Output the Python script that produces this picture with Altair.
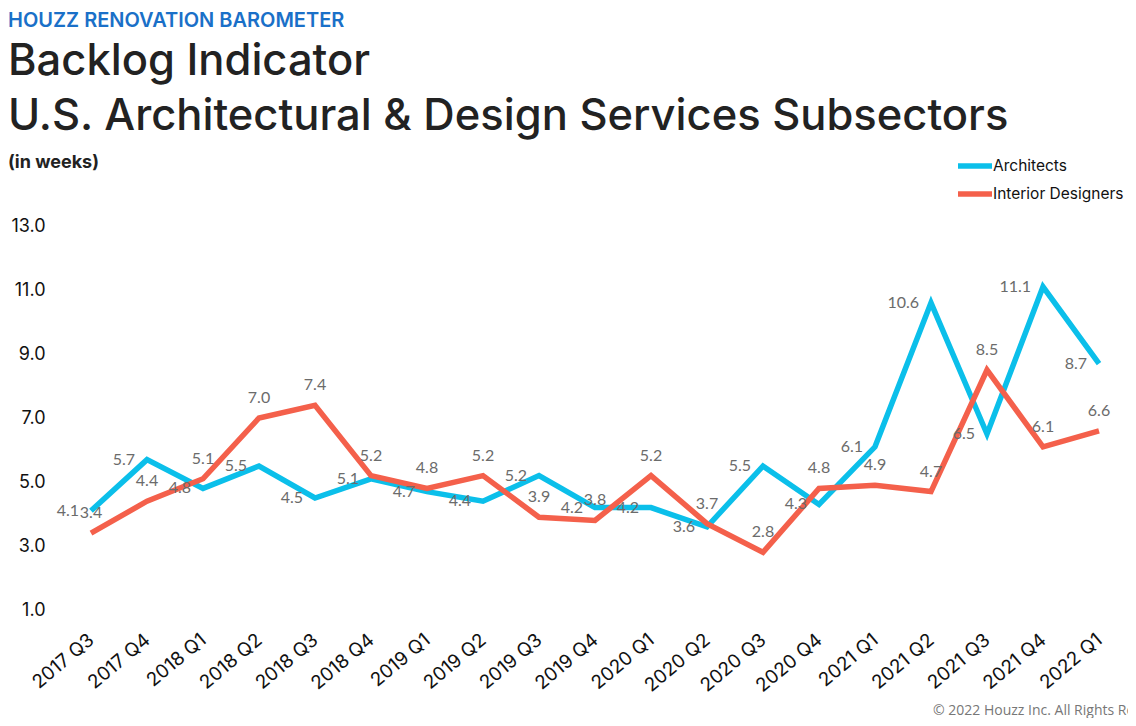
import altair as alt
import pandas as pd

quarters = ["2017 Q3", "2017 Q4", "2018 Q1", "2018 Q2", "2018 Q3", "2018 Q4",
            "2019 Q1", "2019 Q2", "2019 Q3", "2019 Q4", "2020 Q1", "2020 Q2",
            "2020 Q3", "2020 Q4", "2021 Q1", "2021 Q2", "2021 Q3", "2021 Q4",
            "2022 Q1"]
architects = [4.1, 5.7, 4.8, 5.5, 4.5, 5.1, 4.7, 4.4, 5.2, 4.2, 4.2, 3.6,
              5.5, 4.3, 6.1, 10.6, 6.5, 11.1, 8.7]
interior = [3.4, 4.4, 5.1, 7.0, 7.4, 5.2, 4.8, 5.2, 3.9, 3.8, 5.2, 3.7,
            2.8, 4.8, 4.9, 4.7, 8.5, 6.1, 6.6]
series_names = ["Architects", "Interior Designers"]
colors = ["#0BBFEA", "#F4604B"]
y_ticks = [1, 3, 5, 7, 9, 11, 13]

rows = []
for q, a, i in zip(quarters, architects, interior):
    rows.append({"quarter": q, "series": series_names[0], "value": a})
    rows.append({"quarter": q, "series": series_names[1], "value": i})
df = pd.DataFrame(rows)

W, H = 1064, 384
FONT = "Inter"
NUMFONT = "Lato"

x = alt.X("quarter:N", sort=quarters,
          scale=alt.Scale(type="point", padding=0.5),
          axis=alt.Axis(title=None, labelAngle=-40, labelAlign="right",
                        labelBaseline="middle", labelPadding=27,
                        domain=False, ticks=False, labelFont=FONT,
                        labelFontSize=19, labelColor="#111111"))
y = alt.Y("value:Q", scale=alt.Scale(domain=[1, 13], nice=False, zero=False),
          axis=alt.Axis(title=None, values=y_ticks, format=".1f", grid=False,
                        domain=False, ticks=False, labelFont=FONT,
                        labelFontSize=18, labelColor="#111111",
                        labelPadding=18))
color = alt.Color("series:N", scale=alt.Scale(domain=series_names, range=colors),
                  legend=None)

base = alt.Chart(df)
lines = base.mark_line(strokeWidth=5.5).encode(x=x, y=y, color=color, detail="series:N")

lab_arch = base.transform_filter(alt.datum.series == series_names[0]).mark_text(
    align="right", baseline="middle", dx=-12, font=NUMFONT, fontSize=16, color="#6b6b6b"
).encode(x=x, y=y, text=alt.Text("value:Q", format=".1f"))
lab_int = base.transform_filter(alt.datum.series == series_names[1]).mark_text(
    align="center", baseline="middle", dy=-20, font=NUMFONT, fontSize=16, color="#6b6b6b"
).encode(x=x, y=y, text=alt.Text("value:Q", format=".1f"))


def txt(s, xv, yv, size, color, weight="normal", font=FONT, align="left"):
    return alt.Chart(pd.DataFrame({"t": [s]})).mark_text(
        align=align, baseline="alphabetic", font=font, fontSize=size,
        fontWeight=weight, color=color
    ).encode(text="t:N", x=alt.value(xv), y=alt.value(yv))


header = [
    txt("HOUZZ RENOVATION BAROMETER", -55, -199, 20, "#1a70c8", 600),
    txt("Backlog Indicator", -55, -151, 43.5, "#222222", 500),
    txt("U.S. Architectural & Design Services Subsectors", -55, -96, 43.5, "#222222", 500),
    txt("(in weeks)", -55, -58, 18, "#222222", "bold"),
    txt("\u00a9 2022 Houzz Inc. All Rights Reserved", 870, 489, 14, "#777777",
        font="Open Sans"),
]

legend_layers = []
for k, (name, col) in enumerate(zip(series_names, colors)):
    yy = -60 + 28 * k
    legend_layers.append(
        alt.Chart(pd.DataFrame({"s": [name]})).mark_rule(strokeWidth=5.5, color=col)
        .encode(x=alt.value(895), x2=alt.value(929), y=alt.value(yy))
    )
    legend_layers.append(
        alt.Chart(pd.DataFrame({"s": [name]})).mark_text(
            align="left", baseline="middle", font=FONT, fontSize=15.5, color="#111111")
        .encode(text="s:N", x=alt.value(930), y=alt.value(yy))
    )

chart = alt.layer(lines, lab_arch, lab_int, *header, *legend_layers).properties(
    width=W, height=H,
    autosize=alt.AutoSizeParams(type="none"),
    padding={"left": 55, "top": 218, "right": 1, "bottom": 108},
    background="white",
).configure_view(stroke=None)

chart.save("out.html", embed_options={"renderer": "svg", "actions": False})
